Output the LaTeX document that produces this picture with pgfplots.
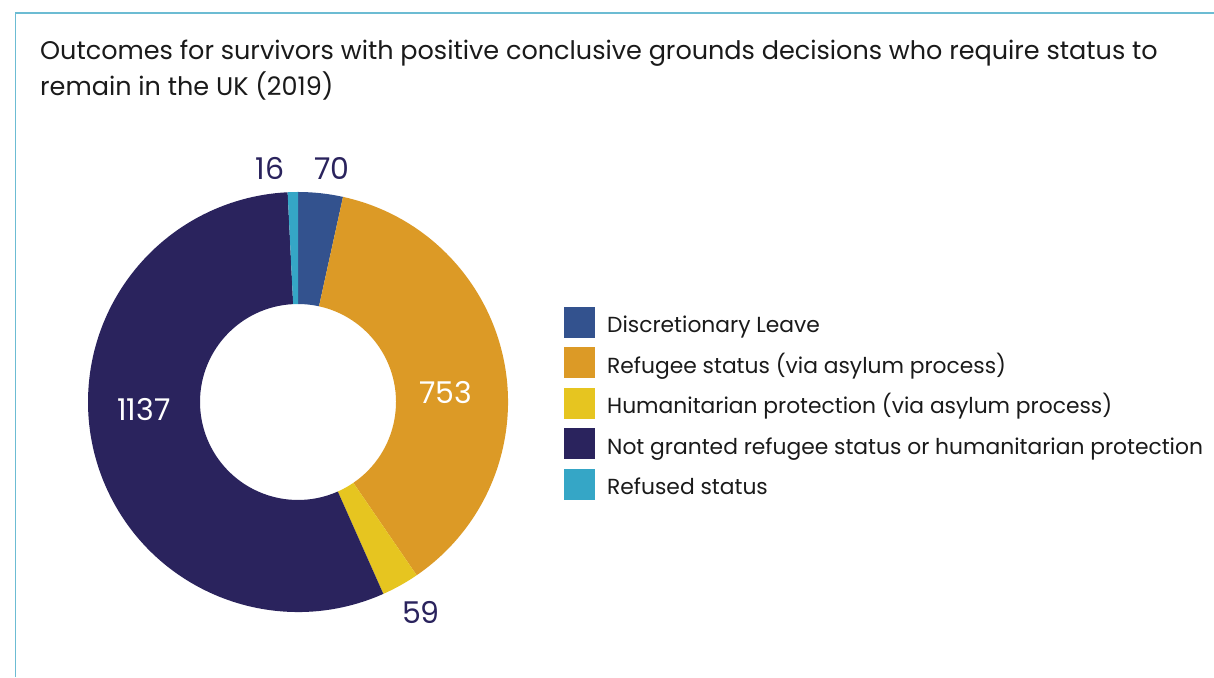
\documentclass[border=0pt]{standalone}
\usepackage{fontspec}
\setmainfont{Poppins}[Ligatures=NoCommon]
\usepackage{pgfplots}
\usepackage{pgfplotstable}
\pgfplotsset{compat=1.18}
\definecolor{cDL}{HTML}{33528E}
\definecolor{cRS}{HTML}{DC9A26}
\definecolor{cHP}{HTML}{E6C520}
\definecolor{cNG}{HTML}{2A235D}
\definecolor{cRF}{HTML}{35A6C6}
\definecolor{frameblue}{HTML}{6CBCD3}
\definecolor{txt}{HTML}{1A1A1A}
\definecolor{lab}{HTML}{2A235D}

\pgfplotstableread{
name value col lx ly lc
DL 70 cDL 34 234 lab
RS 753 cRS 148 9 white
HP 59 cHP 123 -210 lab
NG 1137 cNG -154 -8 white
RF 16 cRF -28 234 lab
}\data

\def\total{0}
\pgfplotstableforeachcolumnelement{value}\of\data\as\v{%
  \pgfmathsetmacro\t{\total+\v}\xdef\total{\t}}

\def\cum{0}
\foreach \i in {0,...,4}{%
  \pgfplotstablegetelem{\i}{value}\of\data
  \let\v\pgfplotsretval
  \pgfmathsetmacro\sa{90-360*(\cum/\total)}%
  \pgfmathsetmacro\newcum{\cum+\v}%
  \pgfmathsetmacro\ea{90-360*(\newcum/\total)}%
  \expandafter\xdef\csname sa\i\endcsname{\sa}%
  \expandafter\xdef\csname ea\i\endcsname{\ea}%
  \xdef\cum{\newcum}%
  \expandafter\xdef\csname val\i\endcsname{\v}%
  \pgfplotstablegetelem{\i}{col}\of\data
  \expandafter\xdef\csname col\i\endcsname{\pgfplotsretval}%
  \pgfplotstablegetelem{\i}{lx}\of\data
  \expandafter\xdef\csname lx\i\endcsname{\pgfplotsretval}%
  \pgfplotstablegetelem{\i}{ly}\of\data
  \expandafter\xdef\csname ly\i\endcsname{\pgfplotsretval}%
  \pgfplotstablegetelem{\i}{lc}\of\data
  \expandafter\xdef\csname lc\i\endcsname{\pgfplotsretval}%
}

\def\Ro{210}
\def\Ri{98}

\begin{document}
\begin{tikzpicture}[x=1pt,y=1pt]
\useasboundingbox (0,0) rectangle (1214,677);
\fill[white] (0,0) rectangle (1214,677);
% frame
\draw[frameblue, line width=1.5pt] (15.5,0) -- (15.5,664) -- (1214,664);
% title
\node[anchor=base west, inner sep=0, text=txt, font=\fontsize{25.5}{30}\selectfont] at (40,617) {Outcomes for survivors with positive conclusive grounds decisions who require status to};
\node[anchor=base west, inner sep=0, text=txt, font=\fontsize{25.5}{30}\selectfont] at (40,581) {remain in the UK (2019)};

\begin{axis}[at={(298pt,275pt)}, anchor=origin, x=1pt, y=1pt,
  xmin=-220, xmax=220, ymin=-220, ymax=220, hide axis, clip=false]
\pgfplotsinvokeforeach{0,...,4}{%
  \edef\cmd{\noexpand\fill[\csname col#1\endcsname, shift={(axis cs:0,0)}]
    (\csname sa#1\endcsname:\Ro pt) arc[start angle=\csname sa#1\endcsname, end angle=\csname ea#1\endcsname, radius=\Ro pt]
    -- (\csname ea#1\endcsname:\Ri pt) arc[start angle=\csname ea#1\endcsname, end angle=\csname sa#1\endcsname, radius=\Ri pt] -- cycle;}%
  \cmd
}
\pgfplotsinvokeforeach{0,...,4}{%
  \edef\cmd{\noexpand\node[text=\csname lc#1\endcsname, font=\noexpand\fontsize{30}{36}\noexpand\selectfont] at (axis cs:\csname lx#1\endcsname,\csname ly#1\endcsname) {\csname val#1\endcsname};}%
  \cmd
}
\end{axis}

% legend
\foreach \c/\t [count=\k from 0] in {cDL/Discretionary Leave, cRS/Refugee status (via asylum process), cHP/Humanitarian protection (via asylum process), cNG/Not granted refugee status or humanitarian protection, cRF/Refused status}{
  \pgfmathsetmacro\yt{677-307-40.5*\k}
  \fill[\c] (564,\yt) rectangle (595,\yt-31);
  \node[anchor=base west, inner sep=0, text=txt, font=\fontsize{21.8}{26}\selectfont] at (607,\yt-26) {\t};
}
\end{tikzpicture}
\end{document}
